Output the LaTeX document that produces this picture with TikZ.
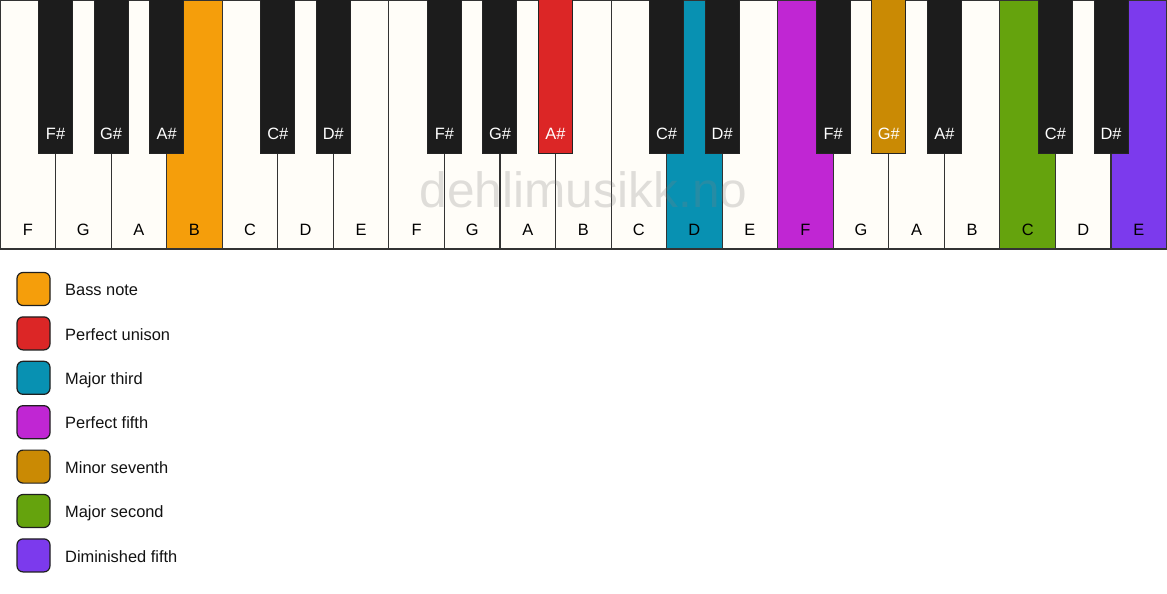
\documentclass[tikz,border=0pt]{standalone}
\usepackage{fontspec}
\setmainfont{Liberation Sans}
\definecolor{wkey}{RGB}{255,253,248}
\definecolor{bkey}{RGB}{28,28,28}
\definecolor{edge}{RGB}{51,51,51}
\definecolor{cBass}{HTML}{F59E0B}
\definecolor{cUni}{HTML}{DC2626}
\definecolor{cThird}{HTML}{0891B2}
\definecolor{cFifth}{HTML}{C026D3}
\definecolor{cSev}{HTML}{CA8A04}
\definecolor{cSec}{HTML}{65A30D}
\definecolor{cDim}{HTML}{7C3AED}
\tikzset{
  whitekey/.style={draw=edge, line width=1.1pt, minimum width=55.55pt, minimum height=249pt, inner sep=0pt, outer sep=0pt},
  blackkey/.style={draw=edge!70!black, line width=1pt, minimum width=34pt, minimum height=153pt, inner sep=0pt, outer sep=0pt},
  keylabel/.style={anchor=base, inner sep=0pt, font=\fontsize{16.4}{19}\selectfont},
  legbox/.style={draw=edge!60!black, line width=1.2pt, rounded corners=6pt, minimum width=33pt, minimum height=33pt, inner sep=0pt},
  legtext/.style={anchor=base west, inner sep=0pt, text=black!93, font=\fontsize{16.4}{19}\selectfont},
  watermark/.style={anchor=base, inner sep=0pt, text=gray, text opacity=0.25, font=\fontsize{49.6}{58}\selectfont}
}
\begin{document}
\begin{tikzpicture}[x=1pt,y=-1pt]
\useasboundingbox (0,0) rectangle (1167,594);
\fill[white] (0,0) rectangle (1167,594);
% white keys
\foreach \i/\n/\c in {0/F/wkey,1/G/wkey,2/A/wkey,3/B/cBass,4/C/wkey,5/D/wkey,6/E/wkey,
  7/F/wkey,8/G/wkey,9/A/wkey,10/B/wkey,11/C/wkey,12/D/cThird,13/E/wkey,
  14/F/cFifth,15/G/wkey,16/A/wkey,17/B/wkey,18/C/cSec,19/D/wkey,20/E/cDim}{
  \node[whitekey, fill=\c] (w\i) at ({(\i+0.5)*55.55},124.5) {};
  \node[keylabel] (wl\i) at ({(\i+0.5)*55.55},235.5) {\n};
}
% black keys
\foreach \b/\n/\c/\t in {1/F\#/bkey/white,2/G\#/bkey/white,3/A\#/bkey/white,5/C\#/bkey/white,6/D\#/bkey/white,
  8/F\#/bkey/white,9/G\#/bkey/white,10/A\#/cUni/white,12/C\#/bkey/white,13/D\#/bkey/white,
  15/F\#/bkey/white,16/G\#/cSev/white,17/A\#/bkey/white,19/C\#/bkey/white,20/D\#/bkey/white}{
  \node[blackkey, fill=\c] (b\b) at ({\b*55.55},76.5) {};
  \node[keylabel, text=\t] (bl\b) at ({\b*55.55},139) {\n};
}
% watermark
\node[watermark] (wm) at (583.5,207.3) {dehlimusikk.no};
% legend
\foreach \k/\c/\txt in {0/cBass/Bass note,1/cUni/Perfect unison,2/cThird/Major third,3/cFifth/Perfect fifth,
  4/cSev/Minor seventh,5/cSec/Major second,6/cDim/Diminished fifth}{
  \node[legbox, fill=\c] (lb\k) at (33.5,{289+\k*44.4}) {};
  \node[legtext] (lt\k) at (65,{295.7+\k*44.4}) {\txt};
}
\end{tikzpicture}
\end{document}
